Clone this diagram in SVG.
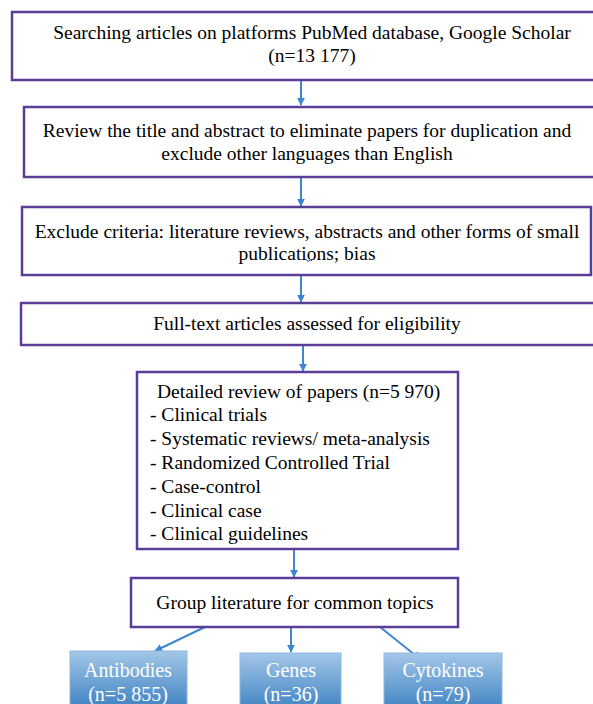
<svg xmlns="http://www.w3.org/2000/svg" width="593" height="704" viewBox="0 0 593 704">
<style>
.box{fill:#ffffff;stroke:#5b3c97;stroke-width:2.5}
text{font-family:'Liberation Serif','DejaVu Serif','Times New Roman',serif}
.t{font-size:19.5px;fill:#000000}
.w{font-size:20px;fill:#ffffff}
.c{stroke:#3d87cf;stroke-width:2;fill:none}
.blue{fill:url(#g);stroke:#8db8e2;stroke-width:1}
</style>
<defs>
<marker id="ah" viewBox="0 0 10 10" refX="9" refY="5" markerWidth="8" markerHeight="8" orient="auto" markerUnits="userSpaceOnUse">
<path d="M0,0 L10,5 L0,10 z" fill="#3d87cf"/>
</marker>
<linearGradient id="g" x1="0" y1="0" x2="0" y2="1">
<stop offset="0" stop-color="#a3c7e8"/>
<stop offset="1" stop-color="#3a7fc0"/>
</linearGradient>
</defs>
<rect width="593" height="704" fill="#ffffff"/>
<g id="connectors">
<line class="c" x1="301" y1="81" x2="301" y2="105" marker-end="url(#ah)"/>
<line class="c" x1="301" y1="178" x2="301" y2="206" marker-end="url(#ah)"/>
<line class="c" x1="301" y1="276" x2="301" y2="302" marker-end="url(#ah)"/>
<line class="c" x1="303" y1="346" x2="303" y2="371" marker-end="url(#ah)"/>
<line class="c" x1="294" y1="549" x2="294" y2="577" marker-end="url(#ah)"/>
<line class="c" x1="205" y1="627" x2="155" y2="651" marker-end="url(#ah)"/>
<line class="c" x1="291" y1="627" x2="291" y2="652" marker-end="url(#ah)"/>
<line class="c" x1="380" y1="627" x2="420" y2="659" marker-end="url(#ah)"/>
</g>
<g id="n1">
<rect class="box" x="12" y="12" width="600" height="68"/>
<text class="t" x="312" y="39" text-anchor="middle">Searching articles on platforms PubMed database, Google Scholar</text>
<text class="t" x="312" y="62" text-anchor="middle">(n=13 177)</text>
</g>
<g id="n2">
<rect class="box" x="24" y="107" width="600" height="70"/>
<text class="t" x="307" y="137" text-anchor="middle">Review the title and abstract to eliminate papers for duplication and</text>
<text class="t" x="307" y="160" text-anchor="middle">exclude other languages than English</text>
</g>
<g id="n3">
<rect class="box" x="22" y="207" width="569" height="68"/>
<text class="t" x="307" y="238" text-anchor="middle">Exclude criteria: literature reviews, abstracts and other forms of small</text>
<text class="t" x="307" y="260" text-anchor="middle">publications; bias</text>
<path d="M306,259 q2,4 4,1 q1,-1 2,1" fill="none" stroke="#3050a0" stroke-width="1"/>
</g>
<g id="n4">
<rect class="box" x="21" y="303" width="600" height="42"/>
<text class="t" x="307" y="330" text-anchor="middle">Full-text articles assessed for eligibility</text>
</g>
<g id="n5">
<rect class="box" x="137" y="372" width="321" height="177"/>
<text class="t" x="157" y="398">Detailed review of papers (n=5 970)</text>
<text class="t" x="150" y="421">- Clinical trials</text>
<text class="t" x="150" y="445">- Systematic reviews/ meta-analysis</text>
<text class="t" x="150" y="469">- Randomized Controlled Trial</text>
<text class="t" x="150" y="493">- Case-control</text>
<text class="t" x="150" y="517">- Clinical case</text>
<text class="t" x="150" y="540">- Clinical guidelines</text>
</g>
<g id="n6">
<rect class="box" x="131" y="578" width="327" height="49"/>
<text class="t" x="295" y="609" text-anchor="middle">Group literature for common topics</text>
</g>
<g id="n7">
<rect class="blue" x="70" y="651" width="117" height="60"/>
<text class="w" x="128" y="677" text-anchor="middle">Antibodies</text>
<text class="w" x="128" y="701" text-anchor="middle">(n=5 855)</text>
</g>
<g id="n8">
<rect class="blue" x="240" y="653" width="101" height="60"/>
<text class="w" x="291" y="677" text-anchor="middle">Genes</text>
<text class="w" x="291" y="701" text-anchor="middle">(n=36)</text>
</g>
<g id="n9">
<rect class="blue" x="384" y="653" width="118" height="60"/>
<text class="w" x="443" y="677" text-anchor="middle">Cytokines</text>
<text class="w" x="443" y="701" text-anchor="middle">(n=79)</text>
</g>
</svg>
